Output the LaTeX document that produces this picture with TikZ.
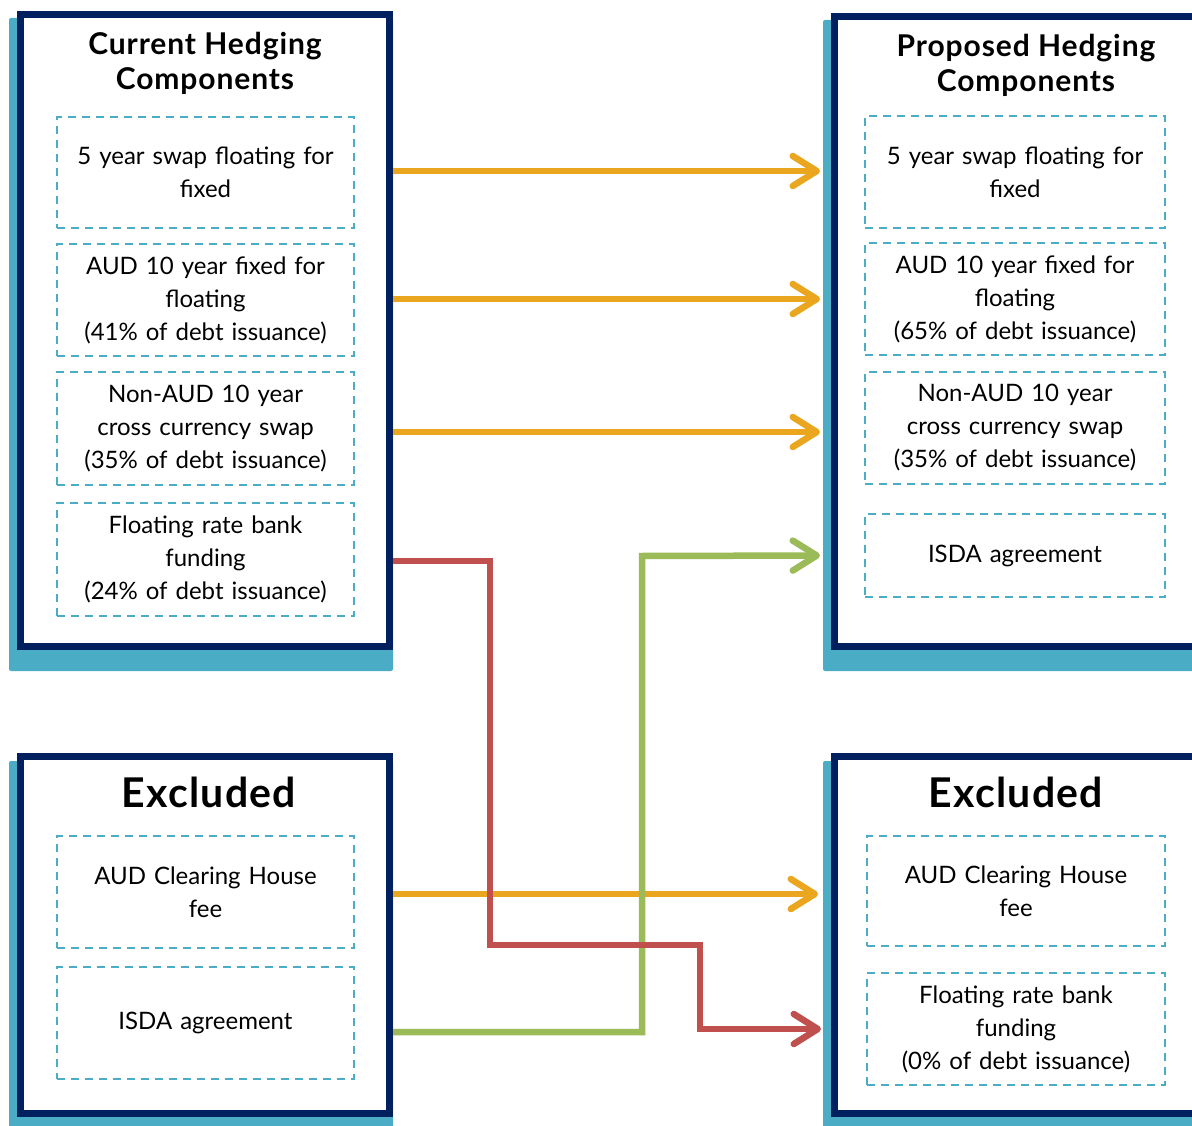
\documentclass[tikz,border=0pt]{standalone}
\usepackage{fontspec}
\setmainfont{Lato}
\newfontfamily\headfont[LetterSpace=3]{Lato}
\usetikzlibrary{arrows.meta}
\definecolor{navyblue}{HTML}{002060}
\definecolor{shadowblue}{HTML}{4BACC6}
\definecolor{arrorange}{HTML}{EBA61F}
\definecolor{arrred}{HTML}{C0504D}
\definecolor{arrgreen}{HTML}{9BBB59}
\tikzset{
  shadowbox/.style={fill=shadowblue, draw=none, rounded corners=2pt, inner sep=0pt, outer sep=0pt, anchor=north west},
  mainbox/.style={draw=navyblue, line width=7pt, fill=white, inner sep=0pt, outer sep=3.5pt, anchor=north west},
  itembox/.style={draw=shadowblue, line width=2.2pt, dash pattern=on 8pt off 6pt, align=center,
    inner sep=0pt, text width=297pt, font=\fontsize{24}{33}\selectfont},
  header/.style={align=center, font=\headfont\bfseries\fontsize{30}{35}\selectfont},
  bighead/.style={font=\headfont\bfseries\fontsize{41}{42}\selectfont},
  conn/.style={line width=6.5pt, -{Straight Barb[length=24pt,width=30pt,round]}, line join=miter},
  oarrow/.style={conn, draw=arrorange},
  garrow/.style={conn, draw=arrgreen},
  rarrow/.style={conn, draw=arrred},
}
\begin{document}
\begin{tikzpicture}[x=1pt,y=-1pt]
\useasboundingbox (0,0) rectangle (1192,1126);
\clip (0,0) rectangle (1192,1126);
% shadows
\node[shadowbox, minimum width=384pt, minimum height=653pt] (LTS) at (9,18) {};
\node[shadowbox, minimum width=430pt, minimum height=651pt] (RTS) at (823,20) {};
\node[shadowbox, minimum width=384pt, minimum height=400pt] (LBS) at (9,761) {};
\node[shadowbox, minimum width=430pt, minimum height=400pt] (RBS) at (823,761) {};
% main boxes
\node[mainbox, minimum width=369pt, minimum height=632pt] (LT) at (17,11) {};
\node[mainbox, minimum width=420pt, minimum height=630pt] (RT) at (831,13) {};
\node[mainbox, minimum width=369pt, minimum height=357pt] (LB) at (17,753) {};
\node[mainbox, minimum width=420pt, minimum height=357pt] (RB) at (831,753) {};
% headers
\node[header] (hLT) at (205,63) {Current Hedging\\Components};
\node[header] (hRT) at (1026,65) {Proposed Hedging\\Components};
\node[bighead] (hLB) at (209,792) {Excluded};
\node[bighead] (hRB) at (1016,792) {Excluded};
% left items
\node[itembox, minimum height=111pt] (L1) at (205.5,172.5) {5 year swap floating for\\fixed};
\node[itembox, minimum height=112pt] (L2) at (205.5,300) {AUD 10 year fixed for\\floating\\(41\% of debt issuance)};
\node[itembox, minimum height=113pt] (L3) at (205.5,428.5) {Non-AUD 10 year\\cross currency swap\\(35\% of debt issuance)};
\node[itembox, minimum height=113pt] (L4) at (205.5,559.5) {Floating rate bank\\funding\\(24\% of debt issuance)};
% right items
\node[itembox, text width=300pt, minimum height=112pt] (R1) at (1015,172) {5 year swap floating for\\fixed};
\node[itembox, text width=300pt, minimum height=112pt] (R2) at (1015,299) {AUD 10 year fixed for\\floating\\(65\% of debt issuance)};
\node[itembox, text width=300pt, minimum height=112pt] (R3) at (1015,428) {Non-AUD 10 year\\cross currency swap\\(35\% of debt issuance)};
\node[itembox, text width=300pt, minimum height=83pt] (R4) at (1015,555.5) {ISDA agreement};
% bottom left items
\node[itembox, minimum height=112pt] (B1) at (205.5,892) {AUD Clearing House\\fee};
\node[itembox, minimum height=112pt] (B2) at (205.5,1023) {ISDA agreement};
% bottom right items
\node[itembox, text width=298pt, minimum height=110pt] (C1) at (1016,891) {AUD Clearing House\\fee};
\node[itembox, text width=298pt, minimum height=112pt] (C2) at (1016,1029) {Floating rate bank\\funding\\(0\% of debt issuance)};
% connectors
\coordinate (oy1) at (0,171);
\coordinate (oy2) at (0,299);
\coordinate (oy3) at (0,432);
\coordinate (oy4) at (0,894);
\coordinate (gy) at (0,1032);
\coordinate (ry) at (0,561);
\draw[oarrow, shorten >=3pt] (LT.east |- oy1) -- (RTS.west |- oy1);
\draw[oarrow, shorten >=3pt] (LT.east |- oy2) -- (RTS.west |- oy2);
\draw[oarrow, shorten >=3pt] (LT.east |- oy3) -- (RTS.west |- oy3);
\draw[oarrow, shorten >=5pt] (LB.east |- oy4) -- (RBS.west |- oy4);
\draw[garrow, shorten >=3pt] (LB.east |- gy) -| (642,556) -- (RTS.west |- R4.west);
\draw[rarrow, shorten >=2pt] (LT.east |- ry) -| (490,945) -- (700,945) |- (RBS.west |- C2.west);
\end{tikzpicture}
\end{document}
